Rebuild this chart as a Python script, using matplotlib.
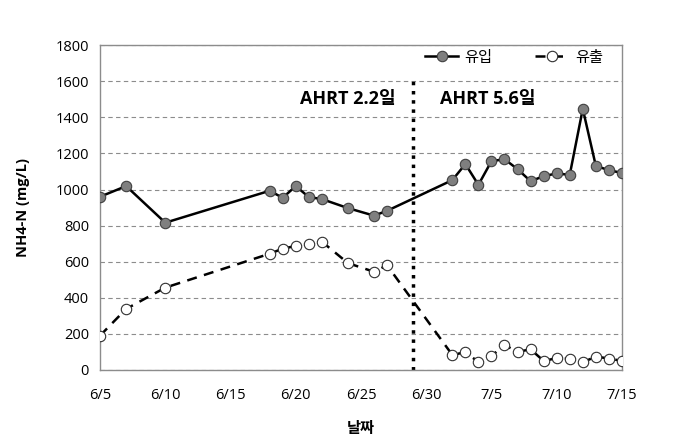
import datetime as dt
import matplotlib
matplotlib.use("Agg")
import matplotlib.pyplot as plt

plt.rcParams['font.family'] = ['Open Sans', 'Noto Sans CJK KR', 'DejaVu Sans']

# dates (month/day)
dates = ["6/5", "6/7", "6/10", "6/18", "6/19", "6/20", "6/21", "6/22", "6/24", "6/26", "6/27",
         "7/2", "7/3", "7/4", "7/5", "7/6", "7/7", "7/8", "7/9", "7/10", "7/11", "7/12",
         "7/13", "7/14", "7/15"]
influent = [960, 1019, 816, 993, 954, 1019, 958, 947, 897, 855, 882,
            1052, 1141, 1026, 1157, 1168, 1113, 1046, 1074, 1089, 1081, 1447,
            1131, 1107, 1092]
effluent = [190, 338, 456, 644, 672, 687, 698, 711, 592, 544, 580,
            83, 98, 44, 77, 138, 100, 114, 50, 65, 63, 42,
            74, 63, 50]
switch_date = "6/29"
tick_dates = ["6/5", "6/10", "6/15", "6/20", "6/25", "6/30", "7/5", "7/10", "7/15"]


def to_dt(s):
    m, d = s.split("/")
    return dt.datetime(2014, int(m), int(d))


x = [to_dt(s) for s in dates]

fig = plt.figure(figsize=(6.76, 4.43), dpi=100)
ax = fig.add_axes([0.148, 0.165, 0.772, 0.733])

ax.plot(x, influent, '-', color='black', lw=1.8, marker='o', ms=7.5,
        mfc='#7f7f7f', mec='#404040', mew=0.8, label='유입', zorder=3)
ax.plot(x, effluent, '--', color='black', lw=1.8, dashes=(4, 3), marker='o', ms=7.5,
        mfc='white', mec='#303030', mew=0.8, label='유출', zorder=3)

ax.vlines(to_dt(switch_date), 0, 1600, colors='black', linestyles=':', lw=2.5, zorder=2)

ax.text(to_dt("6/24"), 1500, "AHRT 2.2일", ha='center', va='center',
        fontsize=13, fontweight='bold')
ax.text(to_dt("7/4") + dt.timedelta(hours=18), 1500, "AHRT 5.6일", ha='center', va='center',
        fontsize=13, fontweight='bold')

ax.set_xlim(to_dt("6/5"), to_dt("7/15"))
ax.set_ylim(0, 1800)
ax.set_yticks(range(0, 1801, 200))
ax.set_xticks([to_dt(s) for s in tick_dates])
ax.set_xticklabels(tick_dates)
ax.tick_params(axis='both', length=0, labelsize=10.5, pad=8)
ax.tick_params(axis='x', pad=13)

ax.yaxis.grid(True, linestyle='--', color='#8c8c8c', lw=0.8, dashes=(4, 3))
ax.set_axisbelow(True)
for sp in ax.spines.values():
    sp.set_color('#8c8c8c')
    sp.set_linewidth(1)

ax.set_ylabel("NH4-N (mg/L)", fontsize=10.5, fontweight='bold', labelpad=18)
ax.set_xlabel("날짜", fontsize=11, fontweight='bold', labelpad=14)

leg = ax.legend(loc='upper right', ncol=2, frameon=False, fontsize=11,
                bbox_to_anchor=(0.99, 1.025), columnspacing=2.8, handlelength=2.2,
                handletextpad=0.4)

fig.savefig("out.png", dpi=100)
